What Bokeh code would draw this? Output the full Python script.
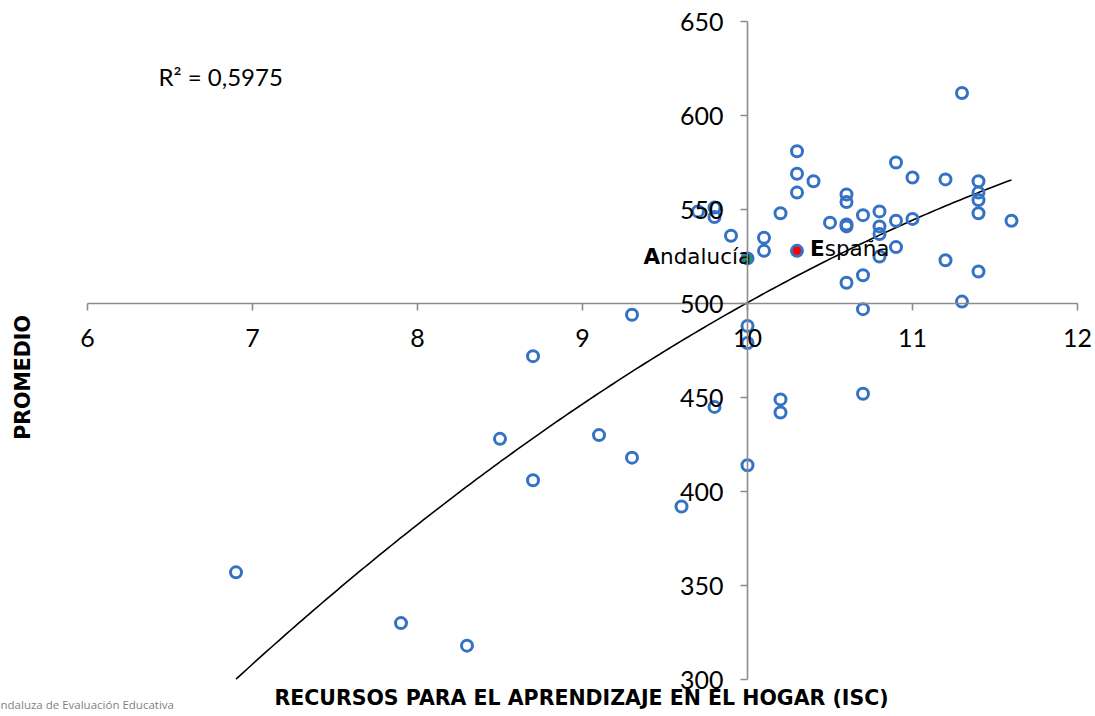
import numpy as np
from bokeh.plotting import figure
from bokeh.models import Range1d, LinearAxis, FixedTicker, Label, ColumnDataSource
from bokeh.embed import file_html
from bokeh.resources import INLINE
from bokeh.core.properties import value

# ---- data ----
isc = [11.3, 10.3, 10.3, 10.4, 10.3, 10.9, 11.0, 11.2, 11.4, 11.4, 11.4, 11.4, 11.6,
       10.6, 10.6, 9.8, 9.7, 9.8, 10.2, 10.5, 10.6, 10.6, 10.7, 10.8, 10.8, 10.8,
       10.9, 11.0, 9.9, 10.1, 10.1, 10.9, 10.8, 11.2, 11.4, 10.7, 10.6, 11.3, 10.7,
       9.3, 10.0, 10.0, 8.7, 9.8, 10.7, 10.2, 10.2, 9.1, 8.5, 9.3, 10.0, 8.7, 9.6,
       6.9, 7.9, 8.3]
promedio = [612, 581, 569, 565, 559, 575, 567, 566, 565, 559, 555, 548, 544,
            558, 554, 551, 549, 546, 548, 543, 542, 541, 547, 549, 541, 537,
            544, 545, 536, 535, 528, 530, 525, 523, 517, 515, 511, 501, 497,
            494, 488, 479, 472, 445, 452, 449, 442, 430, 428, 418, 414, 406, 392,
            357, 330, 318]

region_names = ["Andalucía", "España"]
region_isc = [10.0, 10.3]
region_promedio = [524, 528]
region_colors = ["#1f9e48", "#ff0000"]

x_ticks = [6, 7, 8, 9, 10, 11, 12]
y_ticks = [300, 350, 400, 450, 500, 550, 600, 650]
r2_text = "R² = 0,5975"

BLUE = "#3572c4"
AXIS_GRAY = "#8c8c8c"

W, H = 1092, 712
# frame covers the whole canvas; axes are bounded to 6..12 and 300..650
X0 = 6 - 87 / 165.0
Y1 = 650 + 21 / 1.88
p = figure(width=W, height=H, frame_width=W, frame_height=H,
           min_border=0, min_border_left=0, min_border_right=0,
           min_border_top=0, min_border_bottom=0,
           x_range=Range1d(X0, X0 + W / 165.0), y_range=Range1d(Y1 - H / 1.88, Y1),
           x_axis_location=None, y_axis_location=None,
           toolbar_location=None, output_backend="svg")
p.outline_line_color = None
p.grid.grid_line_color = None
p.background_fill_color = "white"
p.border_fill_color = "white"

def style_axis(ax):
    ax.axis_line_color = AXIS_GRAY
    ax.axis_line_width = 1.6
    ax.major_tick_line_color = AXIS_GRAY
    ax.major_tick_line_width = 1.6
    ax.major_tick_in = 0
    ax.major_tick_out = 7
    ax.minor_tick_line_color = None
    ax.major_label_text_font = "Lato"
    ax.major_label_text_font_size = "25px"
    ax.major_label_text_color = "black"

xax = LinearAxis(fixed_location=500, ticker=FixedTicker(ticks=x_ticks), bounds=(6, 12))
style_axis(xax)
xax.major_label_standoff = 18
p.add_layout(xax, "below")

yax = LinearAxis(fixed_location=10, ticker=FixedTicker(ticks=y_ticks), bounds=(300, 650))
style_axis(yax)
yax.major_label_standoff = 17
p.add_layout(yax, "left")

# trendline (2nd-order polynomial fitted to the data)
coef = np.polyfit(isc, promedio, 2)
xs = np.linspace(min(isc), max(isc), 200)
ys = np.polyval(coef, xs)
p.line(xs, ys, line_color="black", line_width=1.6)

# scatter points
p.scatter(isc, promedio, size=11, line_color=BLUE, line_width=3, fill_color=None)

# highlighted regions
src = ColumnDataSource(dict(
    x=region_isc, y=region_promedio, color=region_colors,
    first=[n[0] for n in region_names], rest=[n[1:] for n in region_names],
    off_first=[-104, 13], off_rest=[-87.4, 27.7],
))
p.scatter("x", "y", source=src, size=11, line_color=BLUE, line_width=3, fill_color="color")
p.text("x", "y", text="first", source=src, x_offset="off_first", y_offset=-2,
       text_font=value("DejaVu Sans"), text_font_style="bold", text_font_size="21.5px",
       text_align="left", text_baseline="alphabetic", text_color="black")
p.text("x", "y", text="rest", source=src, x_offset="off_rest", y_offset=-2,
       text_font=value("DejaVu Sans"), text_font_size="21.5px",
       text_align="left", text_baseline="alphabetic", text_color="black")

def sx(px):
    return X0 + px / 165.0

def sy(py):
    return Y1 - py / 1.88

# annotations
p.add_layout(Label(x=sx(158), y=sy(76), text=r2_text, text_font="Lato", text_font_size="24px",
                   text_align="left", text_baseline="alphabetic", text_color="black"))
p.add_layout(Label(x=sx(22), y=sy(377), text="PROMEDIO", angle=np.pi / 2,
                   text_font="DejaVu Sans", text_font_style="bold", text_font_size="20.5px",
                   text_align="center", text_baseline="middle", text_color="black"))
p.add_layout(Label(x=sx(581), y=sy(697.5), text="RECURSOS PARA EL APRENDIZAJE EN EL HOGAR (ISC)",
                   text_font="DejaVu Sans", text_font_style="bold", text_font_size="20.5px",
                   text_align="center", text_baseline="middle", text_color="black"))
p.add_layout(Label(x=sx(0), y=sy(703.5), text="ndaluza de Evaluación Educativa",
                   text_font="Open Sans", text_font_size="11.5px",
                   text_align="left", text_baseline="middle", text_color="#7f7f7f"))

open("out.html", "w").write(file_html(p, INLINE))
